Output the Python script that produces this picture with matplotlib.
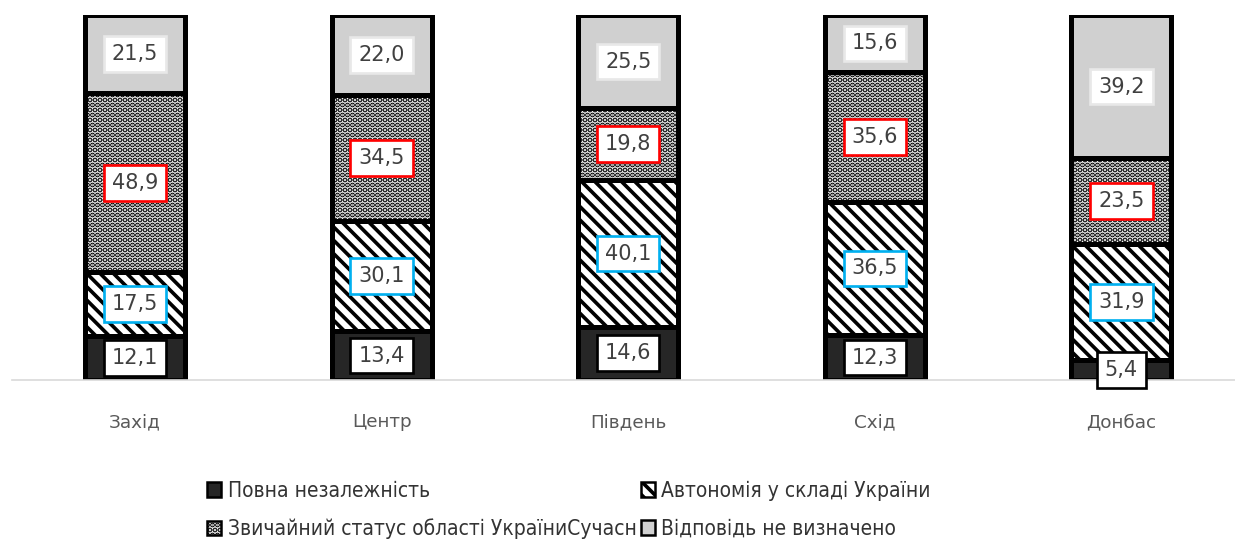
import numpy as np
from matplotlib import pyplot as plt
from matplotlib.patches import Patch

# Data
regions = ["Захід", "Центр", "Південь", "Схід", "Донбас"]
independence = [12.1, 13.4, 14.6, 12.3, 5.4]
autonomy = [17.5, 30.1, 40.1, 36.5, 31.9]
usual_status = [48.9, 34.5, 19.8, 35.6, 23.5]
undecided = [21.5, 22.0, 25.5, 15.6, 39.2]
series_names = ["Повна незалежність", "Автономія у складі України",
                "Звичайний статус області УкраїниСучасн", "Відповідь не визначено"]

plt.rcParams['hatch.linewidth'] = 2.2
plt.rcParams['hatch.color'] = 'black'

fig = plt.figure(figsize=(1235/120, 541/120), dpi=120)
ax = fig.add_axes([11.7/1235, 161/541, 1233/1235, 365/541])

x = np.arange(len(regions))
width = 0.405

# fill, hatch, label box edge color
styles = [
    ("#262626", "", "black"),
    ("white", "\\\\\\", "#00b0f0"),
    ("white", "....", "#ff0000"),
    ("#d0d0d0", "", "#e8e8e8"),
]
series = [independence, autonomy, usual_status, undecided]

bottom = np.zeros(len(regions))
for vals, (fc, hatch, box_ec) in zip(series, styles):
    vals = np.array(vals)
    ax.bar(x, vals, width, bottom=bottom, color=fc, hatch=hatch,
           edgecolor="black", linewidth=3, zorder=2)
    for xi, b, v in zip(x, bottom, vals):
        txt = f"{v:.1f}".replace(".", ",")
        ax.text(xi, b + v/2, txt, ha="center", va="center", fontsize=12.5,
                color="#404040", zorder=4,
                bbox=dict(boxstyle="square,pad=0.38", fc="white", ec=box_ec, lw=1.6))
    bottom += vals

ax.set_xlim(-0.5, len(regions) - 0.5)
ax.set_ylim(0, 100)
for s in ["top", "right", "left"]:
    ax.spines[s].set_visible(False)
ax.spines["bottom"].set_color("#d9d9d9")
ax.spines["bottom"].set_linewidth(1)
ax.set_yticks([])
ax.set_xticks(x)
ax.set_xticklabels(regions, fontsize=11, color="#595959")
ax.tick_params(axis="x", length=0, pad=20)

# Legend (row-wise order: matplotlib fills columns first)
handles = [Patch(facecolor=fc, hatch=h, edgecolor="black", linewidth=1.5)
           for fc, h, _ in styles]
order = [0, 2, 1, 3]
fig.legend([handles[i] for i in order], [series_names[i] for i in order],
           ncol=2, loc="upper left",
           bbox_to_anchor=(188/1235, 1 - 462/541), frameon=False,
           prop={"family": "DejaVu Sans", "stretch": "condensed", "size": 12.5},
           handlelength=0.7, handleheight=0.7,
           handletextpad=0.3, columnspacing=0.2, labelspacing=0.85,
           labelcolor="#333333")

plt.savefig("out.png", dpi=120)
plt.close()
